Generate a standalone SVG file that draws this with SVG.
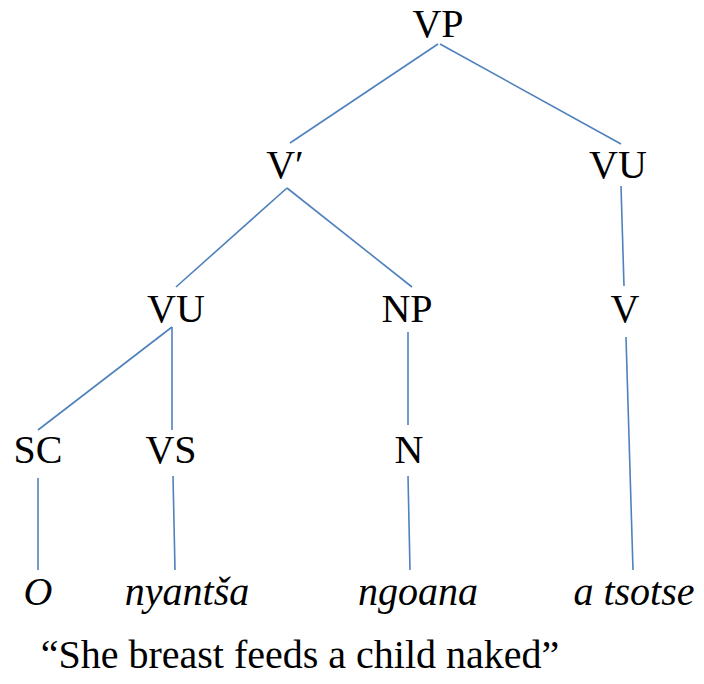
<svg xmlns="http://www.w3.org/2000/svg" width="704" height="684" viewBox="0 0 704 684">
<rect width="704" height="684" fill="#fff"/>
<g id="connectors" stroke="#4F81BD" stroke-width="1.6" fill="none">
<line x1="438" y1="44" x2="290" y2="143"/>
<line x1="440" y1="44" x2="621" y2="144"/>
<line x1="287" y1="188" x2="176" y2="287"/>
<line x1="287" y1="188" x2="412" y2="287"/>
<line x1="621" y1="186" x2="624" y2="286"/>
<line x1="172" y1="327" x2="38" y2="430"/>
<line x1="172" y1="327" x2="172" y2="430"/>
<line x1="408" y1="332" x2="408" y2="425"/>
<line x1="626" y1="337" x2="633" y2="570"/>
<line x1="38" y1="478" x2="38" y2="570"/>
<line x1="173" y1="476" x2="175" y2="570"/>
<line x1="408" y1="476" x2="410" y2="570"/>
</g>
<g id="VP"><text font-family="Liberation Serif" font-size="40" text-anchor="middle" x="438" y="37">VP</text></g>
<g id="Vbar"><text font-family="Liberation Serif" font-size="40" text-anchor="middle" x="285" y="178">V&#8242;</text></g>
<g id="VU2"><text font-family="Liberation Serif" font-size="40" text-anchor="middle" x="618" y="178">VU</text></g>
<g id="VU1"><text font-family="Liberation Serif" font-size="40" text-anchor="middle" x="176" y="322">VU</text></g>
<g id="NP"><text font-family="Liberation Serif" font-size="40" text-anchor="middle" x="407" y="322">NP</text></g>
<g id="V"><text font-family="Liberation Serif" font-size="40" text-anchor="middle" x="625" y="322">V</text></g>
<g id="SC"><text font-family="Liberation Serif" font-size="40" text-anchor="middle" x="38" y="463">SC</text></g>
<g id="VS"><text font-family="Liberation Serif" font-size="40" text-anchor="middle" x="171" y="463">VS</text></g>
<g id="N"><text font-family="Liberation Serif" font-size="40" text-anchor="middle" x="409" y="463">N</text></g>
<g id="O"><text font-family="Liberation Serif" font-size="40" font-style="italic" text-anchor="middle" x="38" y="605">O</text></g>
<g id="nyantsa"><text font-family="Liberation Serif" font-size="40" font-style="italic" text-anchor="middle" x="187" y="605">nyant&#353;a</text></g>
<g id="ngoana"><text font-family="Liberation Serif" font-size="40" font-style="italic" text-anchor="middle" x="418" y="605">ngoana</text></g>
<g id="atsotse"><text font-family="Liberation Serif" font-size="40" font-style="italic" text-anchor="middle" x="634" y="605">a tsotse</text></g>
<g id="gloss"><text font-family="Liberation Serif" font-size="40" text-anchor="middle" x="300" y="668">&#8220;She breast feeds a child naked&#8221;</text></g>
</svg>
